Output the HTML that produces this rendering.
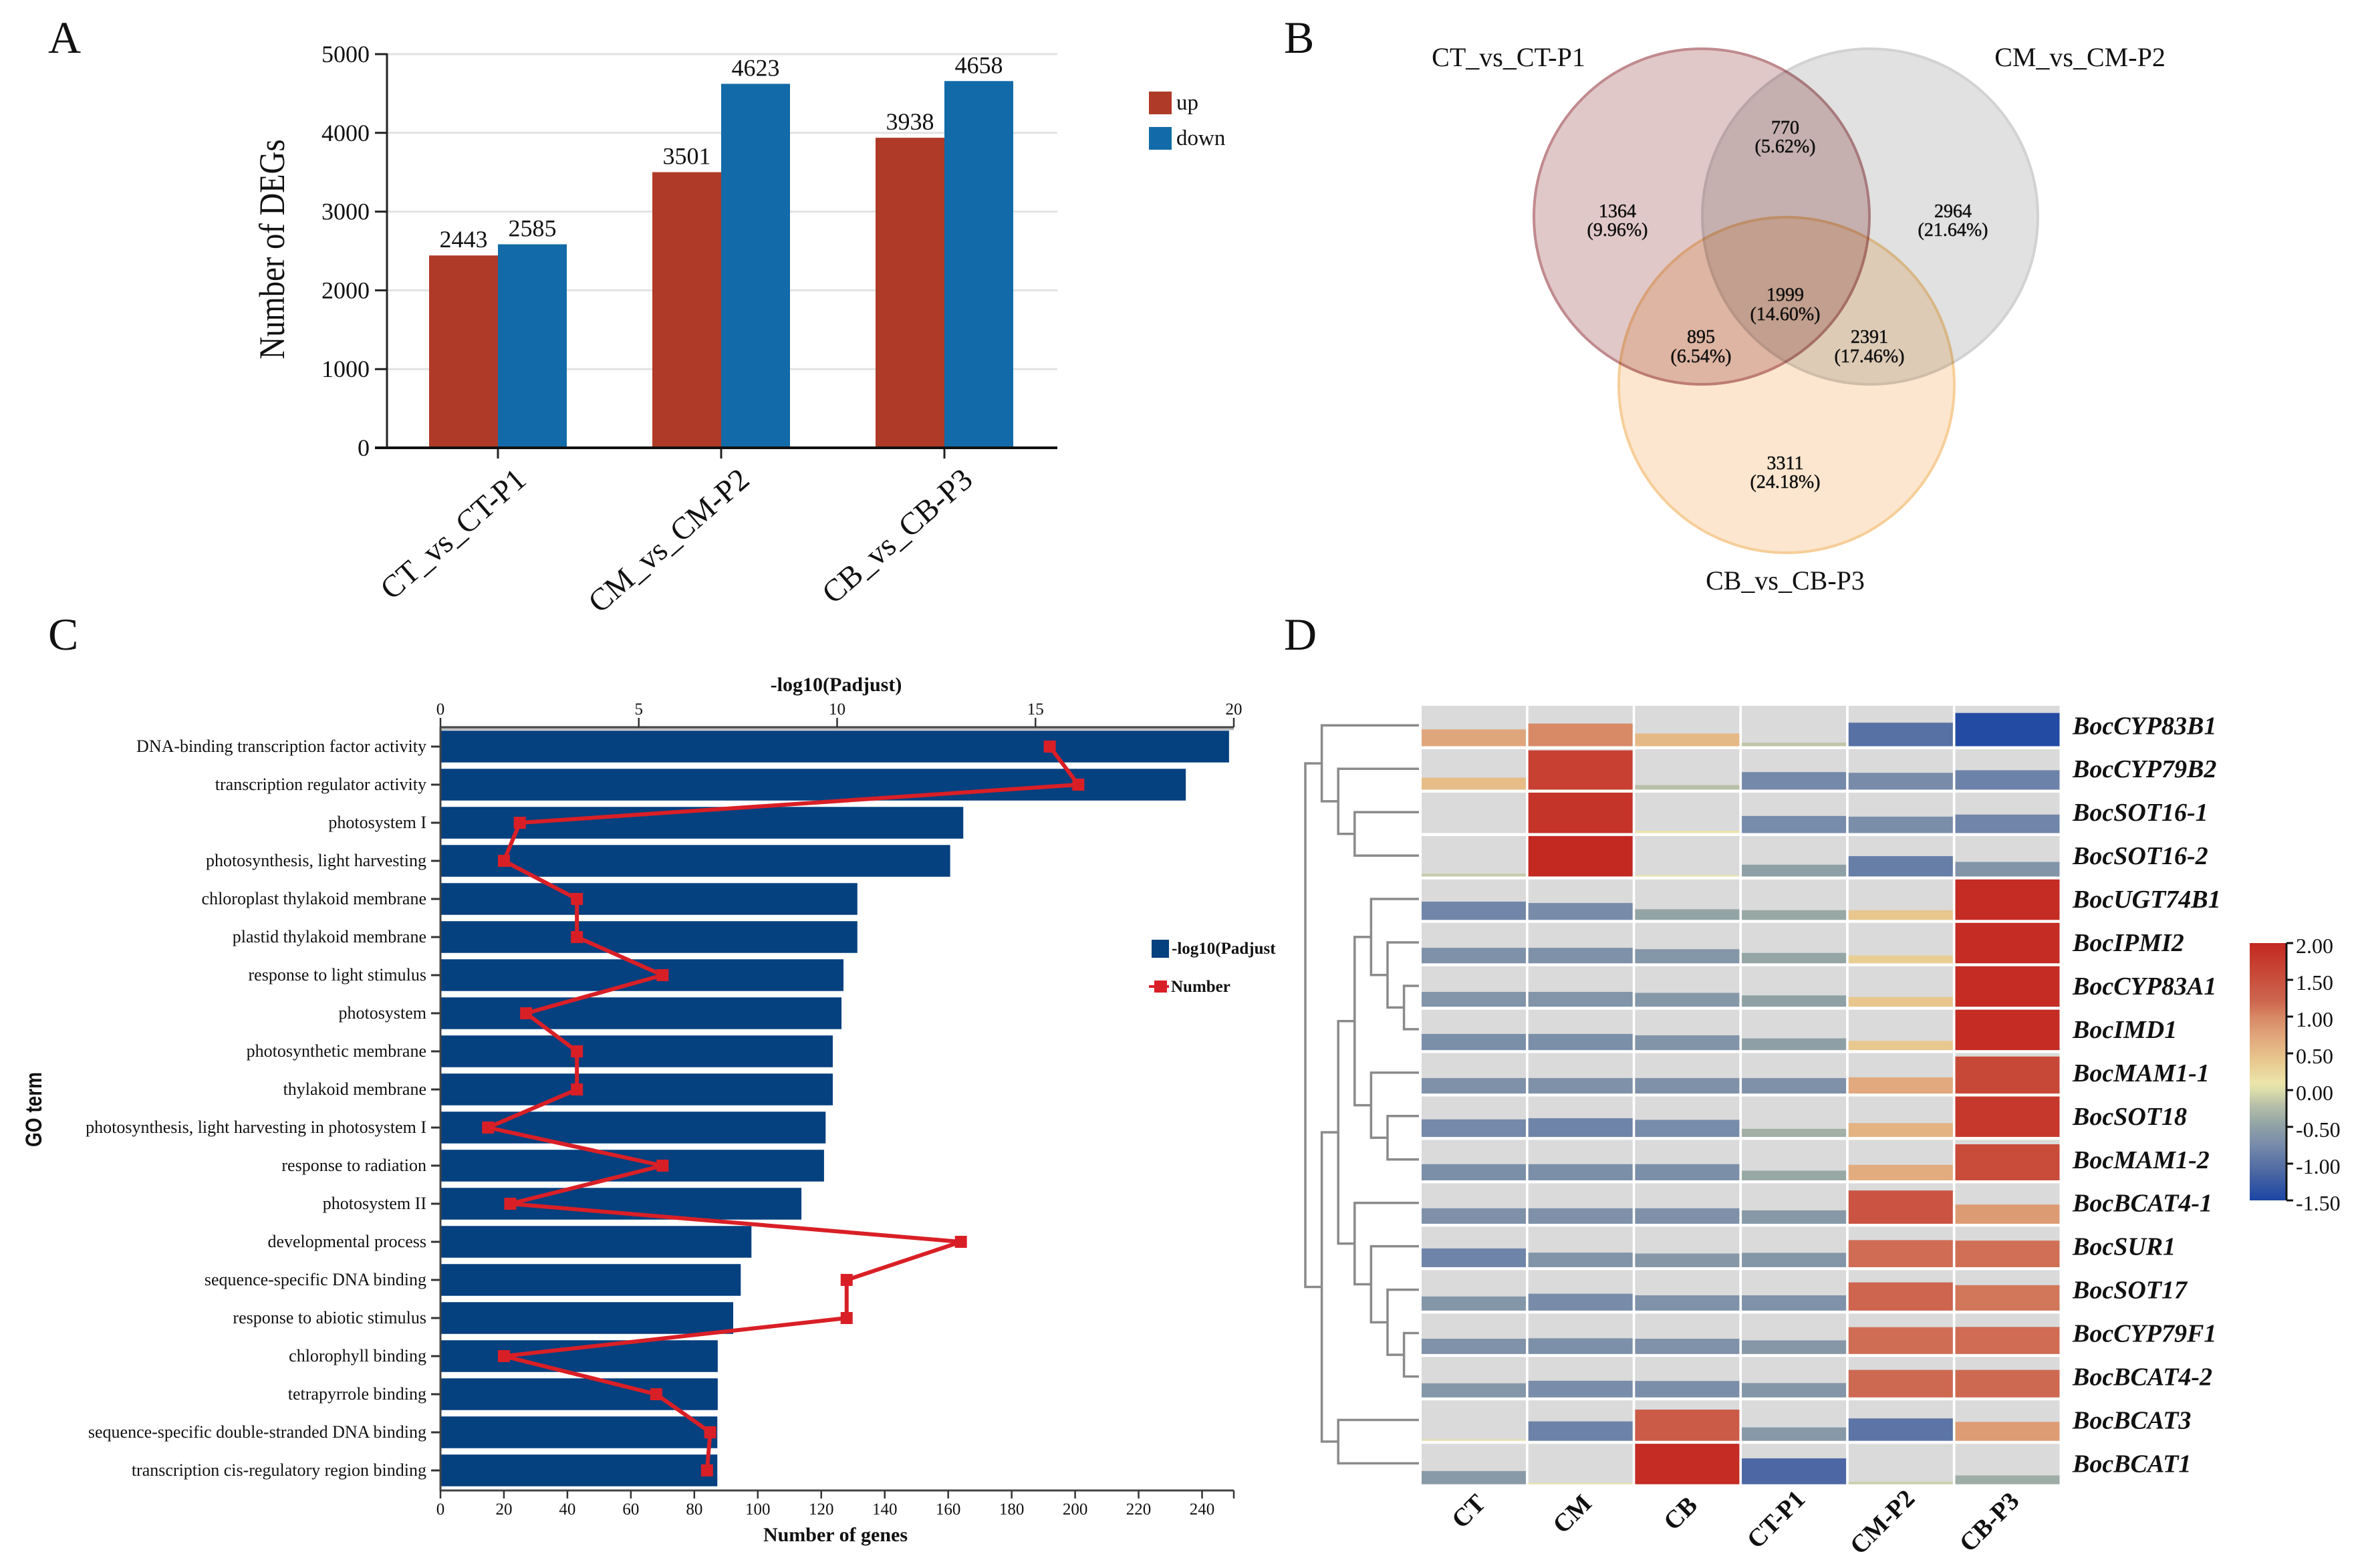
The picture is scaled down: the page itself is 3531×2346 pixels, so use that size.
<!DOCTYPE html>
<html lang="en">
<head>
<meta charset="utf-8">
<title>DEG analysis figure</title>
<style>
html,body{margin:0;padding:0;background:#fff;}
svg{display:block;font-family:"Liberation Serif","Times New Roman",serif;}
text{fill:#111;}
</style>
</head>
<body>
<svg id="figure" xmlns="http://www.w3.org/2000/svg" width="3531" height="2346" viewBox="0 0 3531 2346">
  <defs>
    <clipPath id="legend-clip"><rect x="1700" y="1390" width="209" height="60"/></clipPath>
    <linearGradient id="colorbar-gradient" x1="0" y1="0" x2="0" y2="1"></linearGradient>
  </defs>
  <rect x="0" y="0" width="3531" height="2346" fill="#fff"/>

  <text x="72" y="79" font-size="68">A</text>
  <text x="1921" y="79" font-size="68">B</text>
  <text x="72" y="972" font-size="68">C</text>
  <text x="1921" y="972" font-size="68">D</text>

  <g id="panel-a"></g>

  <g id="panel-b" text-anchor="middle">
    <circle cx="2546" cy="324" r="251" fill="#E1C8C8" stroke="#C08A8E" stroke-width="4" style="mix-blend-mode:multiply"/>
    <circle cx="2798" cy="324" r="251" fill="#E0E1E0" stroke="#D2D2D2" stroke-width="4" style="mix-blend-mode:multiply"/>
    <circle cx="2673" cy="576" r="251" fill="#FCE6CF" stroke="#F6CE98" stroke-width="4" style="mix-blend-mode:multiply"/>
    <text x="2257" y="99" font-size="40">CT_vs_CT-P1</text>
    <text x="3112" y="99" font-size="40">CM_vs_CM-P2</text>
    <text x="2671" y="882" font-size="40">CB_vs_CB-P3</text>
    <g font-size="28" stroke="#111" stroke-width="0.5">
      <text x="2671" y="200">770</text>
      <text x="2671" y="228">(5.62%)</text>
      <text x="2420" y="325">1364</text>
      <text x="2420" y="353">(9.96%)</text>
      <text x="2922" y="325">2964</text>
      <text x="2922" y="353">(21.64%)</text>
      <text x="2671" y="450">1999</text>
      <text x="2671" y="479">(14.60%)</text>
      <text x="2545" y="513">895</text>
      <text x="2545" y="542">(6.54%)</text>
      <text x="2797" y="513">2391</text>
      <text x="2797" y="542">(17.46%)</text>
      <text x="2671" y="702">3311</text>
      <text x="2671" y="730">(24.18%)</text>
    </g>
  </g>

  <g id="panel-c"></g>
  <g id="panel-d"></g>
</svg>
<script>
/* ---------- Panel A data ---------- */
const degCategories = ['CT_vs_CT-P1', 'CM_vs_CM-P2', 'CB_vs_CB-P3'];
const upCounts = [2443, 3501, 3938];
const downCounts = [2585, 4623, 4658];
const degTicks = [0, 1000, 2000, 3000, 4000, 5000];

/* ---------- Panel C data ---------- */
const goTerms = [
  'DNA-binding transcription factor activity',
  'transcription regulator activity',
  'photosystem I',
  'photosynthesis, light harvesting',
  'chloroplast thylakoid membrane',
  'plastid thylakoid membrane',
  'response to light stimulus',
  'photosystem',
  'photosynthetic membrane',
  'thylakoid membrane',
  'photosynthesis, light harvesting in photosystem I',
  'response to radiation',
  'photosystem II',
  'developmental process',
  'sequence-specific DNA binding',
  'response to abiotic stimulus',
  'chlorophyll binding',
  'tetrapyrrole binding',
  'sequence-specific double-stranded DNA binding',
  'transcription cis-regulatory region binding'
];
const padjustValues = [19.88, 18.79, 13.18, 12.85, 10.51, 10.51, 10.16, 10.11, 9.89, 9.89, 9.71, 9.67, 9.10, 7.84, 7.57, 7.38, 6.99, 6.99, 6.98, 6.98];
const geneNumbers = [192, 201, 25, 20, 43, 43, 70, 27, 43, 43, 15, 70, 22, 164, 128, 128, 20, 68, 85, 84];
const padjustTicks = [0, 5, 10, 15, 20];
const geneTicks = [0, 20, 40, 60, 80, 100, 120, 140, 160, 180, 200, 220, 240];

/* ---------- Panel D data ---------- */
const geneNames = ['BocCYP83B1', 'BocCYP79B2', 'BocSOT16-1', 'BocSOT16-2', 'BocUGT74B1', 'BocIPMI2', 'BocCYP83A1', 'BocIMD1', 'BocMAM1-1', 'BocSOT18', 'BocMAM1-2', 'BocBCAT4-1', 'BocSUR1', 'BocSOT17', 'BocCYP79F1', 'BocBCAT4-2', 'BocBCAT3', 'BocBCAT1'];
const sampleNames = ['CT', 'CM', 'CB', 'CT-P1', 'CM-P2', 'CB-P3'];
const heatValues = [
  [0.73, 0.98, 0.55, -0.16, -1.02, -1.44],
  [0.52, 1.70, -0.20, -0.76, -0.73, -0.84],
  [0.00, 1.85, 0.10, -0.74, -0.71, -0.80],
  [-0.12, 2.00, 0.06, -0.51, -0.88, -0.63],
  [-0.79, -0.73, -0.46, -0.42, 0.42, 1.95],
  [-0.67, -0.67, -0.61, -0.45, 0.34, 1.95],
  [-0.64, -0.64, -0.60, -0.49, 0.42, 1.95],
  [-0.70, -0.70, -0.64, -0.51, 0.40, 1.95],
  [-0.67, -0.67, -0.67, -0.67, 0.70, 1.60],
  [-0.76, -0.81, -0.74, -0.35, 0.60, 1.80],
  [-0.70, -0.70, -0.70, -0.42, 0.67, 1.56],
  [-0.67, -0.67, -0.67, -0.58, 1.44, 0.83],
  [-0.81, -0.63, -0.59, -0.62, 1.17, 1.15],
  [-0.61, -0.73, -0.66, -0.66, 1.22, 1.10],
  [-0.66, -0.68, -0.66, -0.59, 1.16, 1.17],
  [-0.61, -0.72, -0.71, -0.62, 1.19, 1.19],
  [0.06, -0.84, 1.35, -0.58, -0.97, 0.82],
  [-0.57, 0.06, 1.95, -1.12, -0.10, -0.38]
];
const colorbarTicks = [2, 1.5, 1, 0.5, 0, -0.5, -1, -1.5];
const clusterTree = [[0, [1, [2, 3]]], [[[[4, [5, [6, 7]]], [8, [9, 10]]], [11, [12, [13, [14, 15]]]]], [16, 17]]];
const colorValues = [-1.5, -1.1, -0.75, -0.45, -0.2, 0, 0.1, 0.42, 0.75, 1, 1.2, 1.6, 2];
const colorRamp = [[28,70,164],[78,105,163],[118,138,170],[148,165,165],[184,192,168],[220,222,170],[236,228,170],[232,198,140],[224,164,122],[215,135,100],[205,103,80],[200,72,55],[195,40,33]];

/* ---------- Helpers ---------- */
const NS = 'http://www.w3.org/2000/svg';
function mk(tag, attrs, parent, content) {
  const n = document.createElementNS(NS, tag);
  for (const k in attrs) n.setAttribute(k, attrs[k]);
  if (content !== undefined) n.textContent = content;
  parent.appendChild(n);
  return n;
}
function slug(s) { return String(s).toLowerCase().replace(/[^a-z0-9]+/g, '-').replace(/^-|-$/g, ''); }

/* ---------- Panel A ---------- */
(function () {
  const g = document.getElementById('panel-a');
  const yA = v => 670 - v * 589 / 5000;
  const xA = i => 745 + i * 334;
  const barW = 103;
  degTicks.forEach(t => {
    if (t > 0) {
      const grid = mk('line', { x1: 579, x2: 1582, y1: yA(t), y2: yA(t), stroke: '#E2E2E2', 'stroke-width': 3 }, g);
      
      
    }
    const tick = mk('line', { x1: 561, x2: 579, y1: yA(t), y2: yA(t), stroke: '#222', 'stroke-width': 3 }, g);
    
    
    const lab = mk('text', { x: 553, y: yA(t) + 12, 'font-size': 36, 'text-anchor': 'end' }, g, t);
    
    
  });
  degCategories.forEach((c, i) => {
    const up = mk('rect', { x: xA(i) - barW, y: yA(upCounts[i]), width: barW, height: 670 - yA(upCounts[i]), fill: '#AF3A27' }, g);
    
    
    const down = mk('rect', { x: xA(i), y: yA(downCounts[i]), width: barW, height: 670 - yA(downCounts[i]), fill: '#126BA8' }, g);
    
    
    const upLab = mk('text', { x: xA(i) - barW / 2, y: yA(upCounts[i]) - 12, 'font-size': 36, 'text-anchor': 'middle' }, g, upCounts[i]);
    
    
    const downLab = mk('text', { x: xA(i) + barW / 2, y: yA(downCounts[i]) - 12, 'font-size': 36, 'text-anchor': 'middle' }, g, downCounts[i]);
    
    
    const tick = mk('line', { x1: xA(i), x2: xA(i), y1: 670, y2: 686, stroke: '#222', 'stroke-width': 3 }, g);
    
    
    const catX = xA(i) + 45;
    const cat = mk('text', { x: catX, y: 722, 'font-size': 47, 'text-anchor': 'end', transform: 'rotate(-41 ' + catX + ' 722)' }, g, c);
    
    
  });
  const yAxis = mk('line', { x1: 579, x2: 579, y1: 80, y2: 670, stroke: '#222', 'stroke-width': 3 }, g);
  
  
  const xAxis = mk('line', { x1: 561, x2: 1582, y1: 670, y2: 670, stroke: '#111', 'stroke-width': 4 }, g);
  
  
  const title = mk('text', { x: 425, y: 373, 'font-size': 54, 'text-anchor': 'middle', textLength: 329, lengthAdjust: 'spacingAndGlyphs', transform: 'rotate(-90 425 373)' }, g, 'Number of DEGs');
  
  
  const upKey = mk('rect', { x: 1719, y: 137, width: 34, height: 34, fill: '#AF3A27' }, g);
  
  
  const upTxt = mk('text', { x: 1760, y: 164, 'font-size': 33 }, g, 'up');
  
  
  const downKey = mk('rect', { x: 1719, y: 190, width: 34, height: 34, fill: '#126BA8' }, g);
  
  
  const downTxt = mk('text', { x: 1760, y: 217, 'font-size': 33 }, g, 'down');
  
  
})();

/* ---------- Panel C ---------- */
(function () {
  const g = document.getElementById('panel-c');
  const x0 = 659, axisEnd = 1846, topY = 1088, botY = 2230;
  const xP = v => x0 + v * 59.35;
  const xN = v => x0 + v * 4.748;
  const yR = i => 1117 + i * 57;
  const barH = 47.5;
  const red = '#D91F26';
  goTerms.forEach((term, i) => {
    const bar = mk('rect', { x: x0, y: yR(i) - barH / 2, width: xP(padjustValues[i]) - x0, height: barH, fill: '#05407F' }, g);
    
    
    const tick = mk('line', { x1: 645, x2: x0, y1: yR(i), y2: yR(i), stroke: '#333', 'stroke-width': 3 }, g);
    
    
    const lab = mk('text', { x: 638, y: yR(i) + 8, 'font-size': 26, 'text-anchor': 'end' }, g, term);
    
    
  });
  const points = geneNumbers.map((v, i) => xN(v) + ',' + yR(i)).join(' ');
  const line = mk('polyline', { points: points, fill: 'none', stroke: red, 'stroke-width': 6, 'stroke-linejoin': 'round' }, g);
  
  
  geneNumbers.forEach((v, i) => {
    const m = mk('rect', { x: xN(v) - 9, y: yR(i) - 9, width: 18, height: 18, fill: red }, g);
    
    
  });
  const topSub = mk('line', { x1: x0, x2: axisEnd, y1: 1091, y2: 1091, stroke: '#BBB', 'stroke-width': 3 }, g);
  
  
  const topAxis = mk('line', { x1: x0, x2: axisEnd, y1: topY, y2: topY, stroke: '#444', 'stroke-width': 3 }, g);
  
  
  const botAxis = mk('line', { x1: x0, x2: axisEnd, y1: botY, y2: botY, stroke: '#444', 'stroke-width': 3 }, g);
  
  
  const leftAxis = mk('line', { x1: x0, x2: x0, y1: topY, y2: botY, stroke: '#444', 'stroke-width': 3 }, g);
  
  
  padjustTicks.forEach(t => {
    const tick = mk('line', { x1: xP(t), x2: xP(t), y1: 1074, y2: topY, stroke: '#333', 'stroke-width': 2.5 }, g);
    
    
    const lab = mk('text', { x: xP(t), y: 1069, 'font-size': 25, 'text-anchor': 'middle' }, g, t);
    
    
  });
  geneTicks.forEach(t => {
    const tick = mk('line', { x1: xN(t), x2: xN(t), y1: botY, y2: botY + 12, stroke: '#333', 'stroke-width': 2.5 }, g);
    
    
    const lab = mk('text', { x: xN(t), y: 2266, 'font-size': 25, 'text-anchor': 'middle' }, g, t);
    
    
  });
  const endTick = mk('line', { x1: axisEnd, x2: axisEnd, y1: botY, y2: botY + 12, stroke: '#333', 'stroke-width': 2.5 }, g);
  
  
  const tTop = mk('text', { x: 1251, y: 1034, 'font-size': 30, 'font-weight': 'bold', 'text-anchor': 'middle' }, g, '-log10(Padjust)');
  
  
  const tBot = mk('text', { x: 1250, y: 2306, 'font-size': 30, 'font-weight': 'bold', 'text-anchor': 'middle' }, g, 'Number of genes');
  
  
  const tLeft = mk('text', { x: 62, y: 1660, 'font-size': 34, 'font-weight': 'bold', 'text-anchor': 'middle', textLength: 112, lengthAdjust: 'spacingAndGlyphs', transform: 'rotate(-90 62 1660)', style: 'font-family:"Liberation Sans",sans-serif' }, g, 'GO term');
  
  
  const key1 = mk('rect', { x: 1723, y: 1406, width: 26, height: 27, fill: '#05407F' }, g);
  
  
  const key1t = mk('text', { x: 1753, y: 1427, 'font-size': 25, 'font-weight': 'bold', 'clip-path': 'url(#legend-clip)' }, g, '-log10(Padjust)');
  
  
  const key2l = mk('line', { x1: 1719, x2: 1749, y1: 1476, y2: 1476, stroke: red, 'stroke-width': 4 }, g);
  
  
  const key2 = mk('rect', { x: 1727, y: 1467, width: 19, height: 18, fill: red }, g);
  
  
  const key2t = mk('text', { x: 1752, y: 1484, 'font-size': 25, 'font-weight': 'bold' }, g, 'Number');
  
  
})();

/* ---------- Panel D ---------- */
(function () {
  const g = document.getElementById('panel-d');
  const cx = c => 2127 + c * 159.7;
  const cw = 156;
  const ry = r => 1056 + r * 64.95;
  const rh = 60.5;
  function colorFor(v) {
    if (v <= colorValues[0]) return 'rgb(' + colorRamp[0].join(',') + ')';
    for (let i = 1; i < colorValues.length; i++) {
      if (v <= colorValues[i]) {
        const t = (v - colorValues[i - 1]) / (colorValues[i] - colorValues[i - 1]);
        const c = colorRamp[i].map((x, k) => Math.round(colorRamp[i - 1][k] + (x - colorRamp[i - 1][k]) * t));
        return 'rgb(' + c.join(',') + ')';
      }
    }
    return 'rgb(' + colorRamp[colorRamp.length - 1].join(',') + ')';
  }
  heatValues.forEach((row, r) => {
    row.forEach((v, c) => {
      const bg = mk('rect', { x: cx(c), y: ry(r), width: cw, height: rh, fill: '#DADADA' }, g);
      
      
      const h = Math.min(1, Math.abs(v) / 1.75) * rh;
      const cell = mk('rect', { x: cx(c), y: ry(r) + rh - h, width: cw, height: h, fill: colorFor(v) }, g);
      
      
    });
    const lab = mk('text', { x: 3101, y: ry(r) + rh / 2 + 12, 'font-size': 38, 'font-weight': 'bold', 'font-style': 'italic' }, g, geneNames[r]);
    
    
  });
  const sampleCentres = [[2206, 2258], [2361, 2262], [2523, 2261], [2666, 2270], [2825, 2274], [2985, 2274]];
  sampleNames.forEach((s, i) => {
    const px = sampleCentres[i][0], py = sampleCentres[i][1] + 12;
    const lab = mk('text', { x: px, y: py, 'font-size': 38, 'font-weight': 'bold', 'text-anchor': 'middle', transform: 'rotate(-45 ' + px + ' ' + py + ')' }, g, s);
    
    
  });

  /* dendrogram */
  const levelX = d => 1953 + d * 24.6;
  const leafEnd = 2123;
  const leafY = r => ry(r) + rh / 2 - 1;
  function drawNode(node, depth) {
    if (typeof node === 'number') return { x: leafEnd, y: leafY(node) };
    const a = drawNode(node[0], depth + 1);
    const b = drawNode(node[1], depth + 1);
    const x = levelX(depth);
    const path = mk('path', { d: 'M' + a.x + ' ' + a.y + 'H' + x + 'V' + b.y + 'H' + b.x, fill: 'none', stroke: '#8A8A8A', 'stroke-width': 3.5 }, g);
    
    
    return { x: x, y: (a.y + b.y) / 2 };
  }
  drawNode(clusterTree, 0);

  /* colorbar */
  const cbY = v => 1411 + (2 - v) * 110;
  const grad = document.getElementById('colorbar-gradient');
  colorValues.slice().reverse().forEach(v => {
    mk('stop', { offset: ((2 - v) / 3.5), 'stop-color': colorFor(v) }, grad);
  });
  const bar = mk('rect', { x: 3366, y: cbY(2), width: 54, height: cbY(-1.5) - cbY(2), fill: 'url(#colorbar-gradient)' }, g);
  
  
  const axis = mk('line', { x1: 3421, x2: 3421, y1: cbY(2), y2: cbY(-1.5), stroke: '#111', 'stroke-width': 3 }, g);
  
  
  colorbarTicks.forEach(t => {
    const tick = mk('line', { x1: 3421, x2: 3431, y1: cbY(t), y2: cbY(t), stroke: '#111', 'stroke-width': 3 }, g);
    
    
    const lab = mk('text', { x: 3435, y: cbY(t) + 15, 'font-size': 32 }, g, t.toFixed(2));
    
    
  });
})();
</script>
</body>
</html>
